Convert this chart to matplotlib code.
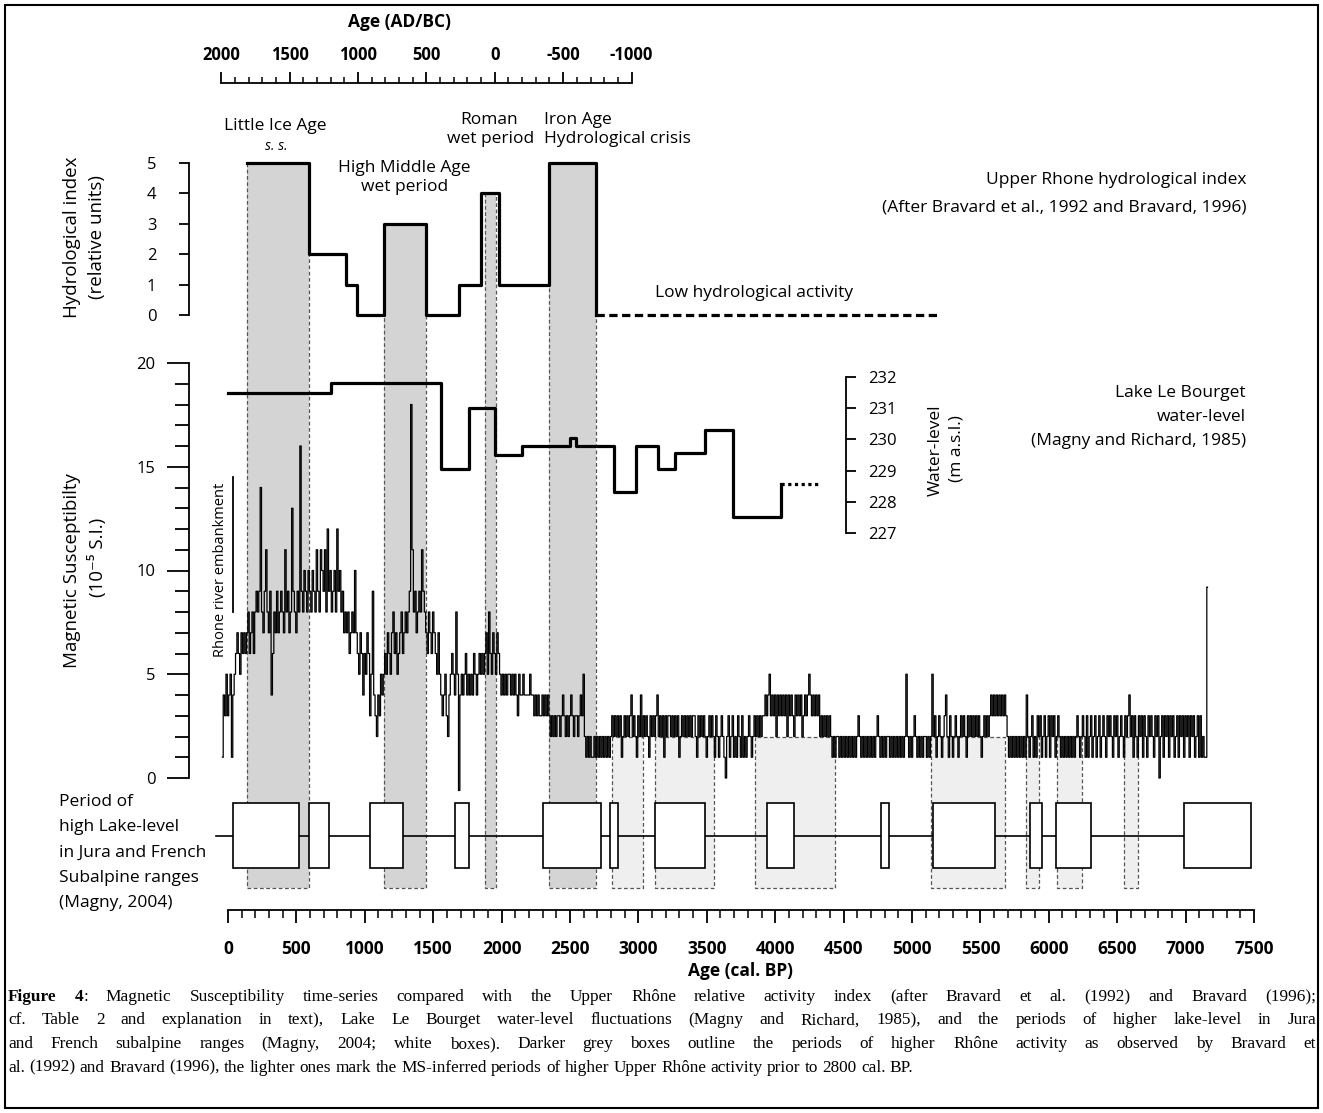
import numpy as np
import matplotlib
matplotlib.use("Agg")
import matplotlib.pyplot as plt
from matplotlib.patches import Rectangle
from matplotlib.ticker import FixedLocator

plt.rcParams['font.family'] = ['Open Sans', 'DejaVu Sans']

# ---- data (ages in cal. BP) ----
hydro_age = [140, 590, 860, 940, 1140, 1450, 1690, 1850, 1980, 2350, 2690]
hydro_index = [5, 2, 1, 0, 3, 0, 1, 4, 1, 5, 0]
hydro_low_until = 5200

lake_age = [0, 750, 1560, 1760, 1950, 2150, 2500, 2545, 2820, 2980, 3140, 3270, 3490, 3695, 4040]
lake_level = [231.5, 231.8, 229.05, 231.0, 229.5, 229.8, 230.05, 229.8, 228.3, 229.8,
              229.05, 229.55, 230.3, 227.5, 228.57]
lake_uncertain_until = 4310

dark_periods = [(140, 590), (1140, 1450), (1880, 1960), (2350, 2690)]
light_periods = [(2810, 3030), (3120, 3550), (3850, 4440), (5140, 5680),
                 (5830, 5930), (6060, 6240), (6550, 6650)]
high_lake_periods = [(40, 520), (590, 740), (1040, 1280), (1660, 1760), (2300, 2730),
                     (2790, 2850), (3120, 3490), (3940, 4140), (4770, 4830), (5150, 5610),
                     (5860, 5950), (6050, 6310), (6990, 7480)]
high_lake_line_start = -90

embankment_age = 37
embankment_ms = [8, 14.5]

# magnetic susceptibility, one value every 10 years from -40 cal. BP
ms_start, ms_step = -40, 10
ms_values = [float(v) for v in """
1 4 3 5 3 4 5 1 4 5
6 7 6 5 7 6 7 6 7 8
6 7 8 6 8 9 8 9 14 8
7 9 11 8 7 9 4 6 8 7
9 7 8 9 8 7 11 8 9 7
8 13 9 8 7 9 8 16 9 8
10 9 8 10 9 8 10 9 8 11
9 8 11 10 9 11 8 12 9 10
8 9 10 8 12 9 10 8 9 7
8 7 8 6 7 8 7 10 7 6
5 7 6 4 6 5 7 6 3 5
9 4 3 2 4 3 5 4 5 6
5 7 6 5 7 8 6 7 5 6
7 8 6 7 8 7 8 9 18 11
8 9 7 8 9 8 11 9 8 7
6 8 7 6 8 7 6 5 7 5
4 3 4 5 3 2 4 5 6 5
4 8 5 -0.6 4 5 4 5 6 4
5 4 5 4 6 5 4 5 6 5
6 5 6 7 5 8 6 5 7 6
5 7 6 5 4 5 4 5 4 5
5 4 5 4 5 4 3 5 4 4
5 4 4 4 4 5 4 4 3 4
3 4 3 3 4 3 4 3 4 3
2 3 2 3 2 3 3 2 3 4
3 2 3 2 3 4 3 2 3 3
2 3 4 3 5 2 1 2 1 2
1 1 2 1 2 1 2 1 2 1
2 1 2 1 2 3 2 3 2 3
2 3 1 2 3 2 3 2 3 4
2 3 2 1 3 2 4 2 3 2
3 2 1 3 2 3 2 3 4 2
3 2 3 1 3 2 3 3 2 3
2 3 2 3 1 2 3 2 3 2
3 2 3 2 3 3 2 1 3 2
3 2 3 2 1 2 3 2 3 2
1 3 2 1 2 3 2 1 0 2
3 1 2 3 1 2 1 3 2 1
3 1 2 1 2 3 2 1 2 3
2 3 2 3 2 3 3 4 3 4
5 3 4 3 4 2 4 3 4 3
4 3 4 2 4 3 4 3 2 4
3 4 3 4 2 3 4 3 4 5
4 3 4 3 4 3 4 2 3 2
3 2 3 2 3 2 1 2 1 2
2 1 2 1 2 1 2 1 2 1
2 1 2 1 2 3 2 1 2 1
2 1 2 1 2 1 2 1 2 3
2 1 2 1 2 1 2 2 1 2
1 2 1 2 1 2 1 2 1 2
5 2 1 2 1 2 3 2 1 2
1 2 1 2 2 1 2 1 2 5
2 3 1 2 3 2 1 2 3 4
2 1 3 2 1 2 3 2 1 2
3 2 3 2 1 3 2 3 2 3
2 3 2 3 2 1 2 3 2 3
2 3 4 3 4 3 4 3 4 3
4 3 4 3 2 1 2 1 2 1
2 1 2 1 2 1 2 1 4 2
1 2 3 1 2 1 3 2 3 1
2 3 1 2 3 1 3 2 3 1
2 3 2 1 2 1 2 1 2 1
2 1 2 1 2 3 2 1 2 3
2 1 3 1 2 3 1 2 3 1
2 3 1 2 3 2 1 3 2 3
2 1 3 2 3 1 2 3 2 1
3 2 3 4 2 3 1 3 2 1
3 2 3 1 3 2 1 3 2 3
2 1 3 2 3 0 2 3 1 3
2 3 1 3 2 3 1 2 3 1
3 2 3 1 3 2 3 1 3 2
3 1 2 3 1 3 1 2 1 1
9.2
""".split()]
ms_age = ms_start + ms_step * np.arange(len(ms_values))

bp_ticks = list(range(0, 7501, 500))
ad_ticks = list(range(2000, -1001, -500))

caption_lines = [
    "*Figure* *4*: Magnetic Susceptibility time-series compared with the Upper Rhône relative activity index (after Bravard et al. (1992) and Bravard (1996);",
    "cf. Table 2 and explanation in text), Lake Le Bourget water-level fluctuations (Magny and Richard, 1985), and the periods of higher lake-level in Jura",
    "and French subalpine ranges (Magny, 2004; white boxes). Darker grey boxes outline the periods of higher Rhône activity as observed by Bravard et",
    "al. (1992) and Bravard (1996), the lighter ones mark the MS-inferred periods of higher Upper Rhône activity prior to 2800 cal. BP.",
]

# ---- layout (pixels) ----
W, H = 1323, 1113
X0, PX_YR = 228, 0.1368          # pixel of 0 cal. BP, pixels per year
SPINE_PX, WL_SPINE_PX = 188.5, 846
BOX_BOTTOM_PX = 888
LW = 2.3
FS = 12.5

fig = plt.figure(figsize=(W / 100, H / 100), dpi=100)
xlim = (-X0 / PX_YR, (W - X0) / PX_YR)
spine_bp = (SPINE_PX - X0) / PX_YR
wl_spine_bp = (WL_SPINE_PX - X0) / PX_YR


def px_axes(top, bottom, z):
    ax = fig.add_axes([0, 1 - bottom / H, 1, (bottom - top) / H], zorder=z)
    ax.set_xlim(*xlim)
    ax.patch.set_visible(False)
    for s in ax.spines.values():
        s.set_visible(False)
    ax.set_xticks([])
    ax.set_yticks([])
    return ax


def ftext(x, y, s, **kw):
    kw.setdefault('fontsize', FS)
    kw.setdefault('va', 'center')
    kw.setdefault('ha', 'center')
    return fig.text(x / W, 1 - y / H, s, **kw)


ax_bg = px_axes(0, H, 0)
ax_bg.set_ylim(H, 0)

# hydrological index
ax_h = px_axes(163, 315, 3)
ax_h.set_ylim(0, 5)
ax_h.spines['left'].set_visible(True)
ax_h.spines['left'].set_position(('data', spine_bp))
ax_h.spines['left'].set_linewidth(1.3)
ax_h.set_yticks(range(6))
ax_h.tick_params(axis='y', length=7.2, width=1.3, labelsize=12, pad=16)
ax_h.step(hydro_age, hydro_index, where='post', color='k', lw=LW, clip_on=False)
ax_h.plot([hydro_age[-1], hydro_low_until], [hydro_index[-1]] * 2, color='k', lw=LW,
          ls=(0, (2.6, 1.4)), clip_on=False)

# magnetic susceptibility
ax_ms = px_axes(363, 778, 2)
ax_ms.set_ylim(0, 20)
ax_ms.spines['left'].set_visible(True)
ax_ms.spines['left'].set_position(('data', spine_bp))
ax_ms.spines['left'].set_linewidth(1.3)
ax_ms.set_yticks([0, 5, 10, 15, 20])
ax_ms.yaxis.set_minor_locator(FixedLocator(range(21)))
ax_ms.tick_params(axis='y', which='major', length=15.8, width=1.3, labelsize=12, pad=8)
ax_ms.tick_params(axis='y', which='minor', length=10, width=1.3)
ax_ms.plot(ms_age, ms_values, drawstyle='steps-mid', color='k', lw=0.9, clip_on=False)
ax_ms.plot([embankment_age] * 2, embankment_ms, color='k', lw=1.3)

# Lake Le Bourget water level
ax_wl = px_axes(377, 533, 3)
ax_wl.set_ylim(227, 232)
ax_wl.spines['right'].set_visible(True)
ax_wl.spines['right'].set_position(('data', wl_spine_bp))
ax_wl.spines['right'].set_linewidth(1.3)
ax_wl.yaxis.tick_right()
ax_wl.set_yticks(range(227, 233))
ax_wl.tick_params(axis='y', length=7.2, width=1.3, labelsize=12, pad=9)
ax_wl.step(lake_age, lake_level, where='post', color='k', lw=LW, clip_on=False)
ax_wl.plot([lake_age[-1], lake_uncertain_until], [lake_level[-1]] * 2, color='k', lw=LW,
           ls=(0, (1, 1.1)), clip_on=False)

# high lake-level boxes
ax_box = px_axes(803, 868, 3)
ax_box.set_ylim(0, 1)
ax_box.plot([high_lake_line_start, high_lake_periods[-1][0]], [0.5, 0.5], color='k', lw=1.2, zorder=1)
for a, b in high_lake_periods:
    ax_box.add_patch(Rectangle((a, 0), b - a, 1, facecolor='white', edgecolor='k',
                               lw=1.2, zorder=2, clip_on=False))

# bottom age axis
ax_bot = px_axes(880, 910, 3)
ax_bot.spines['bottom'].set_visible(True)
ax_bot.spines['bottom'].set_bounds(0, 7500)
ax_bot.spines['bottom'].set_linewidth(1.3)
ax_bot.set_xticks(bp_ticks, labels=[str(t) for t in bp_ticks], fontweight='bold', fontsize=12.5)
ax_bot.xaxis.set_minor_locator(FixedLocator(range(0, 7501, 100)))
ax_bot.tick_params(axis='x', which='major', length=9.4, width=1.3, pad=12)
ax_bot.tick_params(axis='x', which='minor', length=5.8, width=1.1)

# top AD/BC axis
ax_top = fig.add_axes([0, 1 - 100 / H, 1, 17 / H], zorder=3)
ax_top.patch.set_visible(False)
ax_top.set_xlim(1950 - xlim[0], 1950 - xlim[1])
for s in ax_top.spines.values():
    s.set_visible(False)
ax_top.spines['top'].set_visible(True)
ax_top.spines['top'].set_bounds(-1000, 2000)
ax_top.spines['top'].set_linewidth(1.3)
ax_top.set_yticks([])
ax_top.xaxis.tick_top()
ax_top.set_xticks(ad_ticks, labels=[str(t) for t in ad_ticks], fontweight='bold', fontsize=12)
ax_top.xaxis.set_minor_locator(FixedLocator(range(-1000, 2001, 100)))
ax_top.tick_params(axis='x', which='major', length=8, width=1.3, pad=6)
ax_top.tick_params(axis='x', which='minor', length=4.3, width=1.1)


# grey period boxes spanning the panels
def bg_y(ax, v):
    disp = ax.transData.transform((0, v))
    return ax_bg.transData.inverted().transform(disp)[1]


for a, b in dark_periods:
    i = np.searchsorted(hydro_age, (a + b) / 2, side='right') - 1
    top = bg_y(ax_h, hydro_index[i])
    ax_bg.add_patch(Rectangle((a, top), b - a, BOX_BOTTOM_PX - top, facecolor='#d4d4d4', edgecolor='none'))
    ax_bg.plot([a, a, b, b], [top, BOX_BOTTOM_PX, BOX_BOTTOM_PX, top], color='#555555', lw=0.9,
               ls=(0, (3, 2)))

light_top = bg_y(ax_ms, 2)
for a, b in light_periods:
    ax_bg.add_patch(Rectangle((a, light_top), b - a, BOX_BOTTOM_PX - light_top, facecolor='#efefef',
                              edgecolor='none'))
    ax_bg.plot([a, a, b, b, a], [light_top, BOX_BOTTOM_PX, BOX_BOTTOM_PX, light_top, light_top],
               color='#555555', lw=0.9, ls=(0, (3, 2)))

# ---- texts ----
ftext(400, 22, "Age (AD/BC)", fontweight='bold')
ftext(275, 126, "Little Ice Age")
ftext(276, 146, "s. s.", style='italic', fontsize=10)
ftext(404, 168, "High Middle Age")
ftext(405, 187, "wet period")
ftext(489, 120, "Roman")
ftext(491, 139, "wet period")
ftext(544, 120, "Iron Age", ha='left')
ftext(544, 139, "Hydrological crisis", ha='left')
ftext(655, 293, "Low hydrological activity", ha='left')
ftext(1246, 180, "Upper Rhone hydrological index", ha='right')
ftext(1246, 208, "(After Bravard et al., 1992 and Bravard, 1996)", ha='right')
ftext(1246, 393, "Lake Le Bourget", ha='right')
ftext(1246, 417, "water-level", ha='right')
ftext(1246, 441, "(Magny and Richard, 1985)", ha='right')
ftext(936, 450, "Water-level", rotation=90)
ftext(957, 449, "(m a.s.l.)", rotation=90)
ftext(72, 237, "Hydrological index", rotation=90, fontsize=13.5)
ftext(97, 237, "(relative units)", rotation=90, fontsize=13.5)
ftext(72, 571, "Magnetic Susceptibilty", rotation=90, fontsize=13.5)
ftext(97, 557, "(10⁻⁵ S.I.)", rotation=90, fontsize=13.5)
ftext(220, 570, "Rhone river embankment", rotation=90, fontsize=10.5)
for k, s in enumerate(["Period of", "high Lake-level", "in Jura and French",
                       "Subalpine ranges", "(Magny, 2004)"]):
    ftext(59, 802 + 25.3 * k, s, ha='left')
ftext(740, 971, "Age (cal. BP)", fontweight='bold')

# caption, justified like the journal text
renderer = fig.canvas.get_renderer()
cap_font = dict(family=['Liberation Serif', 'DejaVu Serif'], fontsize=12.4)


def width(s, weight='normal'):
    t = fig.text(0, 0, s, fontweight=weight, **cap_font)
    w = t.get_window_extent(renderer).width
    t.remove()
    return w


def runs(word):
    parts = word.split('*')
    return [(p, 'bold' if i % 2 else 'normal') for i, p in enumerate(parts) if p]


space = width("a a") - width("aa")
x_left, x_right = 8, 1316
for k, line in enumerate(caption_lines):
    words = [runs(w) for w in line.split(' ')]
    widths = [sum(width(p, wt) for p, wt in r) for r in words]
    if k < len(caption_lines) - 1:
        gap = (x_right - x_left - sum(widths)) / (len(words) - 1)
    else:
        gap = space
    x = x_left
    y = 997 + 23.5 * k
    for r, wd in zip(words, widths):
        xx = x
        for p, wt in r:
            fig.text(xx / W, 1 - y / H, p, fontweight=wt, va='center', ha='left', **cap_font)
            xx += width(p, wt)
        x += wd + gap

fig.add_artist(Rectangle((5 / W, 1 - 1108 / H), 1313 / W, 1103 / H, transform=fig.transFigure,
                         fill=False, lw=1.5, ec='k'))

fig.savefig("out.png", dpi=100)
